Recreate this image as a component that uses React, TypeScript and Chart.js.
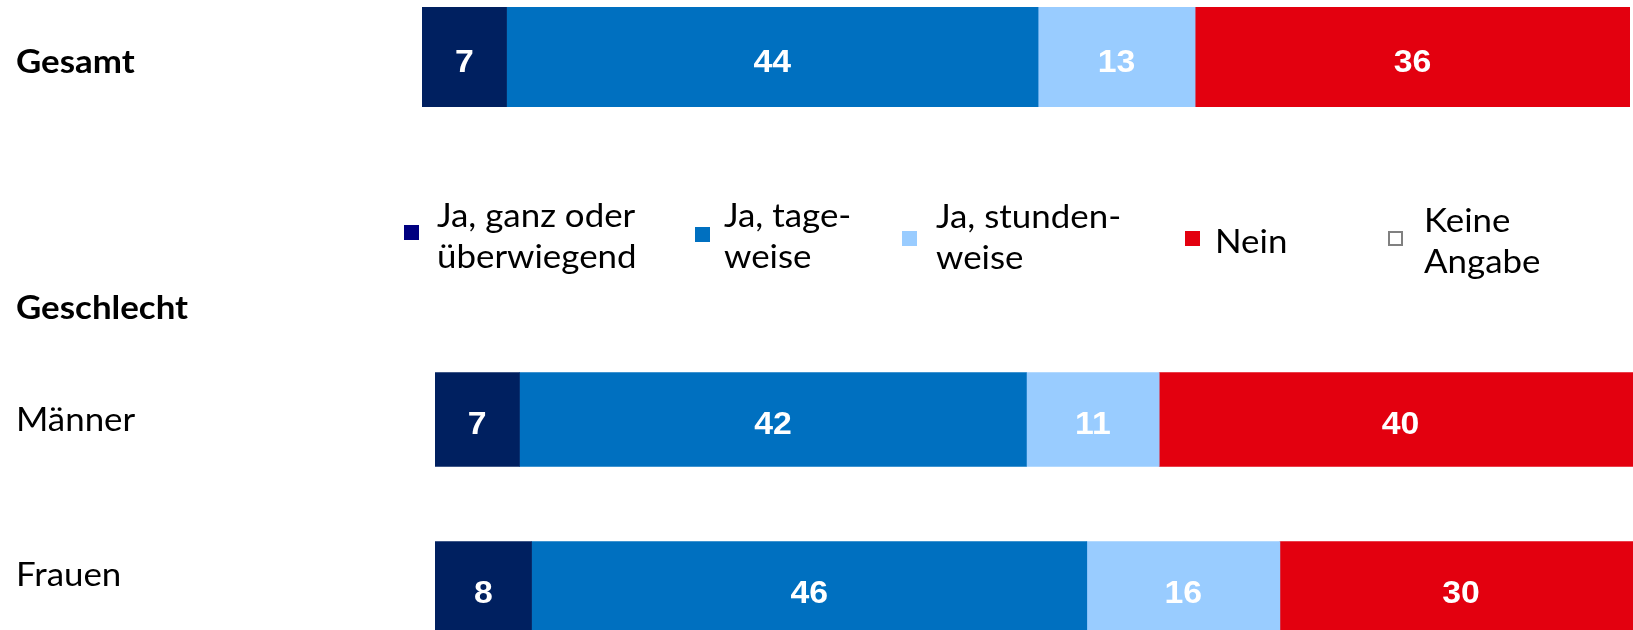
import React, { useEffect, useRef } from "react";
import { Chart, registerables } from "chart.js";

Chart.register(...registerables);

// ---- Data ----
const totalCategory = ["Gesamt"];
const groupTitle = "Geschlecht";
const genderCategories = ["Männer", "Frauen"];

const seriesNames = ["Ja, ganz oder überwiegend", "Ja, tageweise", "Ja, stundenweise", "Nein", "Keine Angabe"];
const legendLines = [["Ja, ganz oder", "überwiegend"], ["Ja, tage-", "weise"], ["Ja, stunden-", "weise"], ["Nein"], ["Keine", "Angabe"]];

// values: [Gesamt, Männer, Frauen]
const ganzOderUeberwiegend = [7, 7, 8];
const tageweise = [44, 42, 46];
const stundenweise = [13, 11, 16];
const nein = [36, 40, 30];
const keineAngabe = [0, 0, 0];

const seriesValues = [ganzOderUeberwiegend, tageweise, stundenweise, nein, keineAngabe];
const barColors = ["#002060", "#0070C0", "#99CCFF", "#E3000F", "#FFFFFF"];
const legendColors = ["#000080", "#0070C0", "#99CCFF", "#E3000F", "#FFFFFF"];

const TEXT_FONT = "Lato";
const TEXT_SIZE = 32;
const TEXT_SX = 1.09;
const NUM_SIZE = 31;
const NUM_SX = 1.09;

function drawStretched(ctx: CanvasRenderingContext2D, text: string, x: number, y: number, sx: number, align: CanvasTextAlign) {
  ctx.save();
  ctx.translate(x, y);
  ctx.scale(sx, 1);
  ctx.textAlign = align;
  ctx.textBaseline = "alphabetic";
  ctx.fillText(text, 0, 0);
  ctx.restore();
}

const valueLabels = {
  id: "valueLabels",
  afterDatasetsDraw(chart: any) {
    const ctx = chart.ctx as CanvasRenderingContext2D;
    ctx.save();
    ctx.fillStyle = "#FFFFFF";
    ctx.font = `bold ${NUM_SIZE}px 'Liberation Sans', Arial, sans-serif`;
    chart.data.datasets.forEach((ds: any, i: number) => {
      const meta = chart.getDatasetMeta(i);
      meta.data.forEach((el: any, j: number) => {
        const v = ds.data[j];
        if (!v) return;
        const p = el.getProps(["x", "y", "base"], true);
        const cx = (p.x + p.base) / 2;
        drawStretched(ctx, String(v), cx, p.y + 14.5, NUM_SX, "center");
      });
    });
    ctx.restore();
  },
};

const slideTexts = {
  id: "slideTexts",
  afterDraw(chart: any) {
    const ctx = chart.ctx as CanvasRenderingContext2D;
    ctx.save();
    ctx.fillStyle = "#000000";
    ctx.font = `bold ${TEXT_SIZE}px '${TEXT_FONT}', sans-serif`;
    drawStretched(ctx, totalCategory[0], 16, 73, TEXT_SX, "left");
    drawStretched(ctx, groupTitle, 16, 319, TEXT_SX, "left");
    ctx.font = `${TEXT_SIZE}px '${TEXT_FONT}', sans-serif`;
    drawStretched(ctx, genderCategories[0], 16, 431, TEXT_SX, "left");
    drawStretched(ctx, genderCategories[1], 16, 586, TEXT_SX, "left");

    // legend
    const sqX = [404, 695, 902, 1185, 1388];
    const sqY = [225, 227, 231, 231, 231];
    const txX = [437, 724, 936, 1215, 1424];
    const base1 = [227, 227, 228, 253, 232];
    const lineGap = 41;
    legendLines.forEach((lines, i) => {
      if (i === 4) {
        ctx.fillStyle = "#FFFFFF";
        ctx.fillRect(sqX[i], sqY[i], 15, 15);
        ctx.strokeStyle = "#808080";
        ctx.lineWidth = 2;
        ctx.strokeRect(sqX[i] + 1, sqY[i] + 1, 13, 13);
      } else {
        ctx.fillStyle = legendColors[i];
        ctx.fillRect(sqX[i], sqY[i], 15, 15);
      }
      ctx.fillStyle = "#000000";
      lines.forEach((ln, k) => {
        drawStretched(ctx, ln, txX[i], base1[i] + k * lineGap, TEXT_SX, "left");
      });
    });
    ctx.restore();
  },
};

function makeDatasets(indices: number[], thickness?: number) {
  return seriesNames.map((name, s) => ({
    label: name,
    data: indices.map((k) => seriesValues[s][k]),
    backgroundColor: barColors[s],
    borderWidth: 0,
    categoryPercentage: 1,
    barPercentage: 1,
    ...(thickness ? { barThickness: thickness } : {}),
  }));
}

function baseOptions(padding: any) {
  return {
    indexAxis: "y" as const,
    responsive: false,
    animation: false as const,
    events: [] as any[],
    layout: { padding },
    plugins: { legend: { display: false }, tooltip: { enabled: false } },
    scales: {
      x: { display: false, stacked: true, min: 0, max: 100 },
      y: { display: false, stacked: true },
    },
  };
}

export default function App() {
  const refA = useRef<HTMLCanvasElement>(null);
  const refB = useRef<HTMLCanvasElement>(null);

  useEffect(() => {
    document.body.style.margin = "0";
    const a = new Chart(refA.current!, {
      type: "bar",
      data: { labels: totalCategory, datasets: makeDatasets([0]) as any },
      options: baseOptions({ left: 422, right: 3, top: 7, bottom: 523 }) as any,
      plugins: [valueLabels, slideTexts],
    });
    const b = new Chart(refB.current!, {
      type: "bar",
      data: { labels: genderCategories, datasets: makeDatasets([1, 2], 94) as any },
      options: baseOptions({ left: 435, right: 0, top: 0, bottom: 0 }) as any,
      plugins: [valueLabels],
    });
    return () => {
      a.destroy();
      b.destroy();
    };
  }, []);

  return (
    <div style={{ position: "relative", width: 1633, height: 630, overflow: "hidden", background: "#FFFFFF" }}>
      <canvas ref={refB} width={1642} height={338} style={{ position: "absolute", left: 0, top: 335 }} />
      <canvas ref={refA} width={1633} height={630} style={{ position: "absolute", left: 0, top: 0 }} />
    </div>
  );
}
